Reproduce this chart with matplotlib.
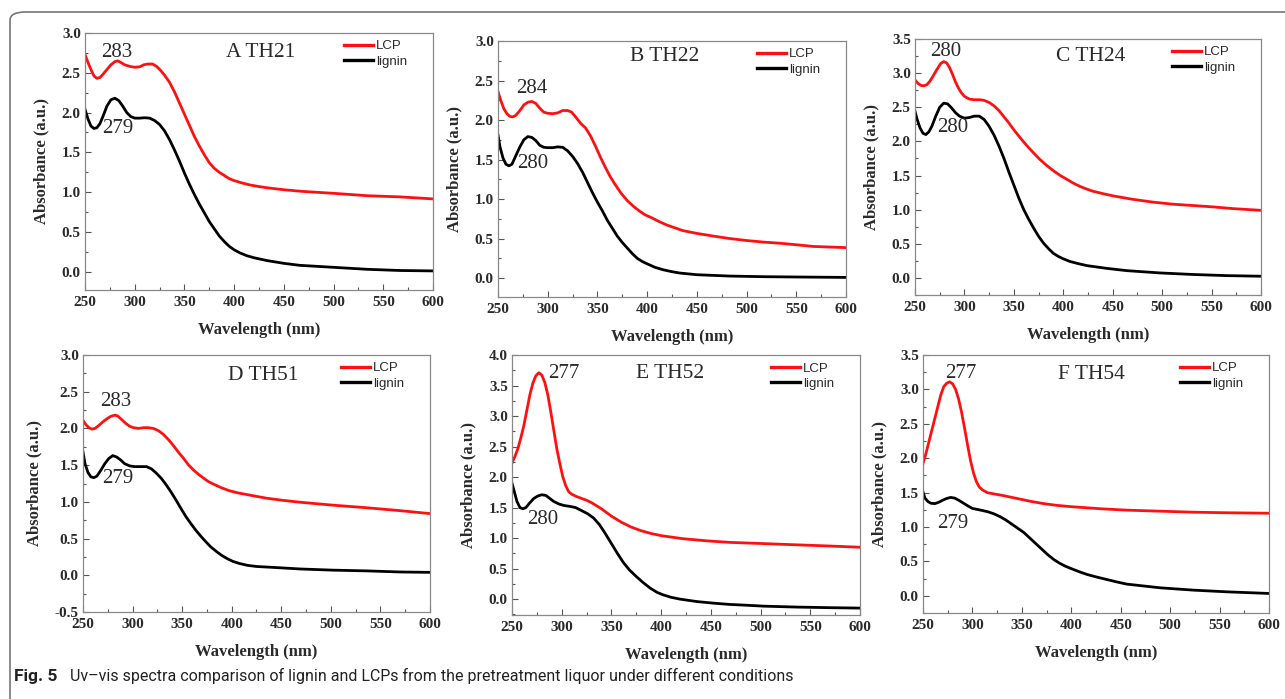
"""Uv-vis spectra of lignin and LCPs, six panels."""
import matplotlib.pyplot as plt
from matplotlib.patches import FancyBboxPatch
from matplotlib.ticker import MultipleLocator

W, H = 1285, 699
SERIF = ['Liberation Serif', 'DejaVu Serif']
SANS = ['Liberation Sans', 'DejaVu Sans']
RED = '#ff1010'
BLACK = '#000000'
TXT = '#2a2a2a'

# ---- data (wavelength nm, absorbance a.u.) ----
# A TH21
wl_a_lcp = [250, 253, 256, 259, 262, 265, 268, 272, 276, 280, 283, 286, 290, 295, 300, 305, 309,
            313, 318, 322, 326, 330, 335, 340, 345, 350, 355, 360, 365, 370, 375, 380, 385, 390,
            395, 400, 408, 416, 425, 433, 450, 468, 500, 534, 567, 600]
abs_a_lcp = [2.73, 2.63, 2.54, 2.46, 2.43, 2.44, 2.48, 2.54, 2.60, 2.64, 2.65, 2.63, 2.60, 2.58,
             2.57, 2.575, 2.60, 2.61, 2.61, 2.58, 2.53, 2.47, 2.38, 2.26, 2.12, 1.98, 1.84, 1.70,
             1.58, 1.47, 1.37, 1.30, 1.25, 1.21, 1.17, 1.145, 1.115, 1.09, 1.07, 1.055, 1.03,
             1.01, 0.985, 0.955, 0.94, 0.915]
wl_a_lig = [250, 253, 256, 259, 262, 265, 268, 272, 276, 280, 284, 288, 292, 296, 300, 305, 310,
            315, 320, 325, 330, 335, 340, 345, 350, 355, 360, 365, 370, 375, 380, 385, 390, 395,
            400, 406, 413, 420, 433, 450, 466, 500, 534, 567, 600]
abs_a_lig = [2.04, 1.92, 1.83, 1.80, 1.81, 1.86, 1.95, 2.08, 2.16, 2.18, 2.15, 2.08, 2.00, 1.95,
             1.93, 1.93, 1.935, 1.93, 1.90, 1.85, 1.77, 1.66, 1.53, 1.39, 1.24, 1.10, 0.97, 0.85,
             0.74, 0.63, 0.54, 0.45, 0.38, 0.32, 0.275, 0.235, 0.20, 0.175, 0.14, 0.105, 0.08,
             0.055, 0.03, 0.015, 0.01]

# B TH22
wl_b_lcp = [250, 253, 256, 259, 262, 265, 268, 272, 276, 280, 284, 288, 292, 296, 300, 305, 310,
            315, 320, 324, 328, 333, 338, 343, 348, 353, 358, 363, 368, 374, 380, 386, 392, 398,
            405, 412, 420, 428, 436, 450, 467, 483, 500, 517, 534, 551, 567, 600]
abs_b_lcp = [2.36, 2.24, 2.14, 2.08, 2.045, 2.04, 2.06, 2.12, 2.19, 2.225, 2.235, 2.21, 2.15,
             2.10, 2.085, 2.08, 2.09, 2.12, 2.12, 2.10, 2.04, 1.96, 1.90, 1.80, 1.67, 1.53, 1.40,
             1.28, 1.18, 1.07, 0.98, 0.91, 0.85, 0.80, 0.76, 0.715, 0.67, 0.635, 0.60, 0.565,
             0.53, 0.50, 0.475, 0.455, 0.44, 0.42, 0.40, 0.385]
wl_b_lig = [250, 252, 255, 258, 261, 264, 268, 272, 276, 280, 284, 288, 292, 296, 300, 305, 310,
            315, 320, 325, 330, 335, 340, 345, 350, 355, 360, 365, 370, 375, 380, 385, 390, 395,
            400, 408, 416, 425, 433, 450, 483, 517, 551, 600]
abs_b_lig = [1.81, 1.66, 1.52, 1.44, 1.42, 1.44, 1.55, 1.66, 1.75, 1.79, 1.78, 1.74, 1.68, 1.655,
             1.65, 1.65, 1.66, 1.655, 1.61, 1.54, 1.45, 1.34, 1.21, 1.08, 0.96, 0.85, 0.73, 0.63,
             0.53, 0.45, 0.38, 0.31, 0.25, 0.21, 0.18, 0.135, 0.105, 0.08, 0.063, 0.042, 0.025,
             0.017, 0.013, 0.008]

# C TH24
wl_c_lcp = [250, 253, 256, 259, 262, 265, 268, 272, 276, 279, 282, 285, 288, 291, 294, 297, 300,
            305, 310, 316, 320, 325, 330, 335, 340, 345, 350, 356, 363, 370, 376, 383, 390, 397,
            403, 410, 417, 424, 430, 440, 451, 471, 491, 511, 532, 552, 572, 600]
abs_c_lcp = [2.90, 2.85, 2.82, 2.815, 2.83, 2.88, 2.95, 3.05, 3.14, 3.17, 3.15, 3.08, 2.98, 2.87,
             2.78, 2.71, 2.66, 2.62, 2.61, 2.61, 2.60, 2.57, 2.52, 2.45, 2.36, 2.27, 2.17, 2.06,
             1.94, 1.83, 1.74, 1.65, 1.57, 1.50, 1.45, 1.39, 1.34, 1.30, 1.27, 1.235, 1.20, 1.15,
             1.11, 1.08, 1.06, 1.04, 1.015, 0.99]
wl_c_lig = [250, 252, 255, 258, 261, 264, 267, 271, 275, 279, 283, 287, 291, 295, 300, 305, 310,
            315, 320, 325, 330, 335, 340, 345, 350, 355, 360, 365, 370, 375, 380, 385, 390, 395,
            400, 407, 415, 424, 434, 444, 464, 498, 532, 565, 600]
abs_c_lig = [2.44, 2.33, 2.20, 2.12, 2.10, 2.14, 2.22, 2.37, 2.50, 2.56, 2.55, 2.49, 2.42, 2.37,
             2.34, 2.35, 2.37, 2.37, 2.32, 2.22, 2.09, 1.93, 1.75, 1.55, 1.36, 1.17, 1.00, 0.86,
             0.73, 0.61, 0.51, 0.43, 0.36, 0.315, 0.28, 0.24, 0.21, 0.18, 0.16, 0.14, 0.107,
             0.073, 0.05, 0.034, 0.025]

# D TH51
wl_d_lcp = [250, 253, 256, 259, 262, 266, 270, 274, 278, 282, 285, 289, 293, 297, 301, 306, 311,
            316, 321, 326, 331, 336, 341, 346, 351, 356, 361, 366, 371, 376, 381, 390, 398, 407,
            415, 425, 435, 452, 469, 502, 536, 570, 600]
abs_d_lcp = [2.11, 2.05, 2.01, 1.99, 2.00, 2.04, 2.09, 2.13, 2.165, 2.18, 2.17, 2.12, 2.07, 2.03,
             2.01, 2.00, 2.01, 2.01, 2.00, 1.97, 1.92, 1.85, 1.77, 1.68, 1.60, 1.51, 1.44, 1.38,
             1.33, 1.28, 1.245, 1.19, 1.15, 1.12, 1.10, 1.075, 1.05, 1.02, 0.995, 0.955, 0.92,
             0.88, 0.84]
wl_d_lig = [250, 252, 255, 258, 261, 264, 268, 272, 276, 280, 284, 288, 292, 297, 302, 308, 314,
            319, 324, 329, 334, 339, 344, 349, 354, 359, 364, 369, 374, 379, 385, 390, 395, 401,
            408, 416, 425, 445, 469, 502, 536, 570, 600]
abs_d_lig = [1.68, 1.52, 1.40, 1.34, 1.33, 1.35, 1.43, 1.52, 1.59, 1.63, 1.61, 1.57, 1.52, 1.49,
             1.48, 1.48, 1.48, 1.45, 1.39, 1.32, 1.23, 1.13, 1.02, 0.905, 0.795, 0.70, 0.61, 0.53,
             0.455, 0.385, 0.32, 0.27, 0.23, 0.19, 0.16, 0.135, 0.12, 0.105, 0.086, 0.07, 0.06,
             0.045, 0.04]

# E TH52
wl_e_lcp = [250, 253, 256, 259, 262, 265, 268, 271, 274, 277, 280, 283, 286, 289, 292, 295, 298,
            301, 304, 307, 310, 315, 320, 325, 330, 335, 340, 345, 350, 360, 370, 380, 390, 400,
            422, 446, 469, 503, 536, 570, 600]
abs_e_lcp = [2.23, 2.34, 2.47, 2.65, 2.85, 3.10, 3.35, 3.54, 3.66, 3.71, 3.67, 3.55, 3.35, 3.07,
             2.77, 2.47, 2.23, 2.01, 1.86, 1.76, 1.72, 1.68, 1.65, 1.62, 1.58, 1.53, 1.48, 1.42,
             1.36, 1.26, 1.18, 1.12, 1.075, 1.04, 0.99, 0.955, 0.93, 0.91, 0.89, 0.87, 0.85]
wl_e_lig = [250, 252, 255, 258, 261, 264, 268, 272, 276, 280, 284, 288, 292, 297, 302, 308, 314,
            320, 326, 332, 338, 344, 350, 356, 362, 368, 375, 382, 389, 396, 402, 410, 419, 436,
            452, 469, 486, 503, 536, 570, 600]
abs_e_lig = [1.90, 1.78, 1.60, 1.50, 1.48, 1.50, 1.58, 1.65, 1.69, 1.71, 1.70, 1.65, 1.60, 1.56,
             1.535, 1.52, 1.50, 1.45, 1.40, 1.33, 1.22, 1.07, 0.91, 0.75, 0.60, 0.48, 0.37, 0.27,
             0.18, 0.11, 0.07, 0.03, 0.0, -0.04, -0.065, -0.087, -0.10, -0.115, -0.13, -0.14,
             -0.147]

# F TH54
wl_f_lcp = [250, 253, 256, 259, 262, 265, 268, 271, 274, 277, 280, 283, 286, 289, 292, 295, 298,
            301, 304, 307, 310, 315, 322, 330, 340, 350, 360, 372, 385, 400, 415, 430, 456, 490,
            524, 557, 600]
abs_f_lcp = [1.92, 2.07, 2.24, 2.41, 2.58, 2.75, 2.92, 3.04, 3.09, 3.11, 3.08, 3.00, 2.86, 2.67,
             2.44, 2.20, 1.97, 1.79, 1.66, 1.58, 1.54, 1.50, 1.48, 1.46, 1.43, 1.40, 1.37, 1.34,
             1.315, 1.295, 1.28, 1.265, 1.245, 1.23, 1.215, 1.207, 1.20]
wl_f_lig = [250, 252, 255, 258, 262, 266, 270, 274, 278, 282, 286, 290, 295, 300, 305, 310, 316,
            322, 328, 334, 340, 346, 352, 358, 364, 370, 376, 382, 388, 394, 400, 408, 416, 425,
            435, 445, 456, 490, 524, 557, 600]
abs_f_lig = [1.51, 1.42, 1.37, 1.345, 1.34, 1.36, 1.39, 1.415, 1.43, 1.42, 1.39, 1.355, 1.31,
             1.27, 1.255, 1.24, 1.22, 1.19, 1.15, 1.10, 1.04, 0.98, 0.92, 0.84, 0.76, 0.68, 0.60,
             0.53, 0.475, 0.43, 0.395, 0.35, 0.31, 0.275, 0.24, 0.205, 0.17, 0.116, 0.082, 0.058,
             0.034]

titles = ['A TH21', 'B TH22', 'C TH24', 'D TH51', 'E TH52', 'F TH54']
peak_lcp = ['283', '284', '280', '283', '277', '277']
peak_lig = ['279', '280', '280', '279', '280', '279']
ylims = [(-0.23, 3.0), (-0.24, 3.0), (-0.25, 3.5), (-0.5, 3.0), (-0.26, 4.0), (-0.25, 3.5)]
lcp_x = [wl_a_lcp, wl_b_lcp, wl_c_lcp, wl_d_lcp, wl_e_lcp, wl_f_lcp]
lcp_y = [abs_a_lcp, abs_b_lcp, abs_c_lcp, abs_d_lcp, abs_e_lcp, abs_f_lcp]
lig_x = [wl_a_lig, wl_b_lig, wl_c_lig, wl_d_lig, wl_e_lig, wl_f_lig]
lig_y = [abs_a_lig, abs_b_lig, abs_c_lig, abs_d_lig, abs_e_lig, abs_f_lig]

# ---- layout (pixel boxes: left, right, top, bottom) ----
BOXES = [(85, 433, 33, 290), (498, 846, 41, 297), (915, 1261, 39, 295),
         (83, 430, 355, 612), (512, 860, 355, 615), (923, 1269, 355, 613)]
TITLE_POS = [(427, 2.75), (418, 2.80), (428, 3.25), (432, 2.72), (409, 3.70), (420, 3.21)]
LCP_POS = [(282, 2.76), (284, 2.40), (281, 3.31), (283, 2.36), (302, 3.70), (288, 3.23)]
LIG_POS = [(283, 1.80), (285, 1.45), (288, 2.20), (285, 1.32), (281, 1.31), (280, 1.05)]

fig = plt.figure(figsize=(W / 100, H / 100), dpi=100)

# outer rounded frame of the figure page
frame = FancyBboxPatch((10 / W, 1 - 1.2), 1.2, 1.2 - 12 / H,
                       boxstyle='round,pad=0,rounding_size=0.012',
                       transform=fig.transFigure, fill=False,
                       edgecolor='#777777', linewidth=1.2)
fig.patches.append(frame)

for i in range(6):
    l, r, t, b = BOXES[i]
    ax = fig.add_axes([l / W, 1 - b / H, (r - l) / W, (b - t) / H])
    ax.plot(lcp_x[i], lcp_y[i], color=RED, lw=2.0, label='LCP',
            solid_joinstyle='round')
    ax.plot(lig_x[i], lig_y[i], color=BLACK, lw=2.0, label='lignin',
            solid_joinstyle='round')
    ax.set_xlim(250, 600)
    ax.set_ylim(*ylims[i])
    ax.xaxis.set_major_locator(MultipleLocator(50))
    ax.xaxis.set_minor_locator(MultipleLocator(25))
    ax.yaxis.set_major_locator(MultipleLocator(0.5))
    ax.yaxis.set_minor_locator(MultipleLocator(0.25))
    ax.yaxis.set_major_formatter(lambda v, p: f'{v:.1f}')
    ax.tick_params(which='both', direction='in', top=False, right=False,
                   color='#555555', width=0.8)
    ax.tick_params(which='major', length=4, pad=3)
    ax.tick_params(which='minor', length=2.5)
    ax.tick_params(axis='x', which='major', pad=4)
    for lab in ax.get_xticklabels() + ax.get_yticklabels():
        lab.set_family(SERIF)
        lab.set_fontweight('bold')
        lab.set_fontsize(11)
        lab.set_color(TXT)
    for sp in ax.spines.values():
        sp.set_color('#888888')
        sp.set_linewidth(0.9)
    ax.set_xlabel('Wavelength (nm)', family=SERIF, fontweight='bold',
                  fontsize=12, color=TXT, labelpad=10)
    ax.set_ylabel('Absorbance (a.u.)', family=SERIF, fontweight='bold',
                  fontsize=12, color=TXT, labelpad=9)

    ax.text(*TITLE_POS[i], titles[i], family=SERIF, fontsize=15.5,
            color=TXT, ha='center', va='center')
    ax.text(*LCP_POS[i], peak_lcp[i], family=SERIF, fontsize=15,
            color=TXT, ha='center', va='center')
    ax.text(*LIG_POS[i], peak_lig[i], family=SERIF, fontsize=15,
            color=TXT, ha='center', va='center')

    leg = ax.legend(loc='upper right', bbox_to_anchor=(0.925, 0.972),
                    frameon=False, borderpad=0, borderaxespad=0,
                    handlelength=2.2, handletextpad=0.2, labelspacing=0.25,
                    prop={'family': SANS, 'size': 9.5})
    for h in leg.get_lines():
        h.set_linewidth(2.4)
    for tx in leg.get_texts():
        tx.set_color(TXT)

fig.text(14 / W, 1 - 676 / H, 'Fig. 5', family=['Roboto', 'DejaVu Sans'],
         fontweight='bold', fontsize=12.5, va='center', ha='left', color='#222222')
fig.text(70 / W, 1 - 676 / H,
         'Uv\u2013vis spectra comparison of lignin and LCPs from the pretreatment '
         'liquor under different conditions',
         family=['Roboto', 'DejaVu Sans'], fontsize=11.5, va='center', ha='left',
         color='#222222')

fig.savefig('out.png', dpi=100)
